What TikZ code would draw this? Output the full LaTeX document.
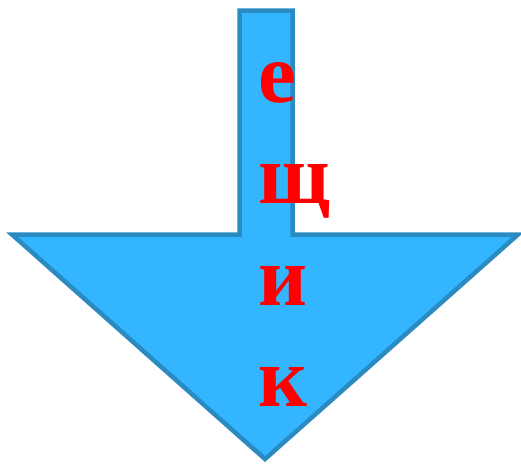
\documentclass[tikz,border=0pt]{standalone}
\usepackage{fontspec}
\setmainfont{Liberation Serif}
\usepackage{tikz}
\definecolor{arrowfill}{HTML}{33B5FF}
\definecolor{arrowline}{HTML}{2A8AC2}
\definecolor{lettered}{HTML}{FF0000}

\begin{document}
\begin{tikzpicture}[
    x=1pt,y=-1pt,
    arrowbody/.style={draw=arrowline,fill=arrowfill,line width=4.5pt,line join=miter},
    letter/.style={text=lettered,font=\fontsize{85}{85}\selectfont\bfseries,
                   inner sep=0pt,anchor=base west}
  ]
  \useasboundingbox (0,0) rectangle (521,463);

  % arrow
  \draw[arrowbody] (239.5,10.5) -- (292.5,10.5) -- (292.5,234.5) -- (518,234.5)
    -- (265,459) -- (12,234.5) -- (239.5,234.5) -- cycle;

  % letters
  \node[letter] (lE)   at (258,102) {е};
  \node[letter] (lShh) at (258,203) {щ};
  \node[letter] (lI)   at (258,305) {и};
  \node[letter] (lK)   at (258,406) {к};

\end{tikzpicture}
\end{document}
